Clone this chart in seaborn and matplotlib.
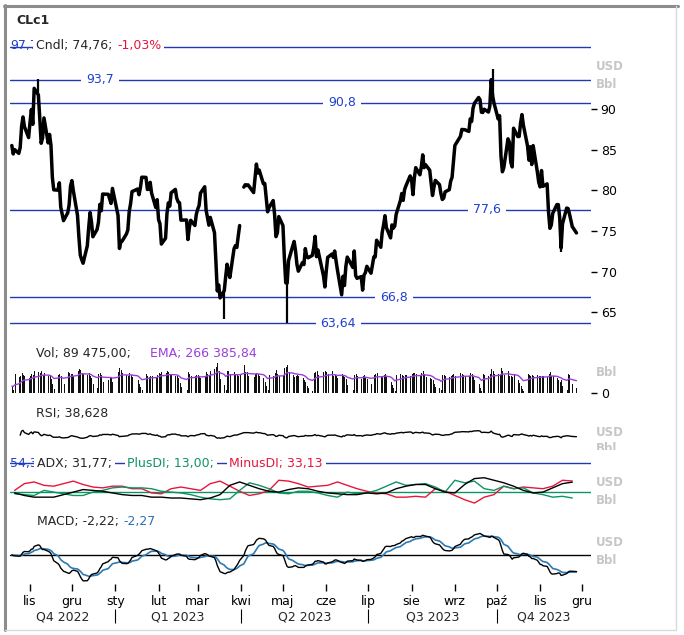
import matplotlib
matplotlib.use("Agg")
import matplotlib.pyplot as plt
import matplotlib.dates as mdates
import pandas as pd
import seaborn as sns
from matplotlib.lines import Line2D
from matplotlib.patches import Rectangle

# ---------------------------------------------------------------- data
holidays = ["2022-11-24", "2022-12-26", "2023-01-02", "2023-01-16", "2023-02-20",
            "2023-04-07", "2023-05-29", "2023-06-19", "2023-07-04", "2023-09-04",
            "2023-11-23"]

close = [
    # 2022-10 (from 19th)
    85.55, 84.51, 85.05, 84.58, 85.32, 87.91, 89.08, 87.90, 86.53,
    # 2022-11
    88.37, 90.00, 88.17, 92.61, 91.79, 88.91, 85.83, 86.47, 88.96, 85.87, 86.92,
    85.59, 81.64, 80.08, 80.04, 80.95, 77.94, 76.28, 77.24, 78.20, 80.55,
    # 2022-12
    81.22, 79.98, 76.93, 74.25, 72.01, 71.46, 71.02, 73.17, 75.39, 77.28, 76.11,
    74.29, 75.19, 76.09, 78.29, 77.49, 79.56, 79.53, 78.96, 78.40, 80.26,
    # 2023-01
    76.93, 72.84, 73.67, 73.77, 74.63, 75.12, 77.41, 78.39, 79.86, 80.18,
    79.48, 80.33, 81.64, 81.62, 80.13, 80.15, 81.01, 79.68, 77.90, 78.87,
    # 2023-02
    76.41, 75.88, 73.39, 74.11, 77.14, 78.47, 78.06, 79.72, 80.14, 79.06,
    78.59, 78.49, 76.34, 76.36, 73.95, 75.39, 76.32, 75.68, 77.05,
    # 2023-03
    77.69, 78.16, 79.68, 80.46, 77.58, 76.66, 75.72, 76.68, 74.80, 71.33, 67.61,
    68.35, 66.74, 67.64, 69.33, 70.90, 69.96, 69.26, 72.81, 73.20, 72.97, 74.37, 75.67,
    # 2023-04
    80.42, 80.71, 80.61, 80.70, 79.74, 81.53, 83.26, 82.16, 82.52, 80.83,
    80.86, 79.16, 77.37, 77.87, 78.76, 77.07, 74.30, 74.76, 76.78,
    # 2023-05
    75.66, 71.66, 68.60, 68.56, 71.34, 73.16, 73.71, 72.56, 70.87, 70.04, 71.11,
    70.86, 72.83, 71.86, 71.69, 71.99, 72.91, 74.34, 71.83, 72.67, 69.46, 68.09,
    # 2023-06
    70.10, 71.74, 72.15, 71.74, 72.53, 71.29, 70.17, 67.12, 69.42, 68.27, 70.62,
    71.78, 70.50, 72.53, 69.51, 69.16, 69.37, 67.70, 69.56, 69.86, 70.64,
    # 2023-07
    69.79, 71.79, 71.80, 73.86, 72.99, 74.83, 75.75, 76.89, 75.42, 74.15,
    75.75, 75.35, 75.63, 77.07, 78.74, 79.63, 78.78, 80.09, 80.58, 81.80,
    # 2023-08
    81.37, 79.49, 81.55, 82.82, 81.94, 82.92, 84.40, 82.82, 83.19, 82.51, 80.99, 79.38,
    80.39, 81.25, 80.72, 79.64, 78.89, 79.05, 79.83, 80.10, 81.16, 81.63, 83.63,
    # 2023-09
    85.55, 86.69, 87.54, 87.51, 87.51, 87.29, 88.84, 88.52, 90.16, 90.77,
    91.48, 91.20, 89.66, 89.63, 90.03, 89.68, 90.39, 93.68, 91.71, 90.79,
    # 2023-10
    88.82, 89.23, 84.22, 82.31, 82.79, 86.38, 85.97, 83.49, 82.91, 87.69, 86.66,
    86.66, 88.32, 89.37, 88.08, 85.49, 83.74, 85.39, 83.21, 85.54, 82.31, 81.02,
    # 2023-11
    80.44, 82.46, 80.51, 80.82, 77.37, 75.33, 75.74, 77.17, 78.26, 78.26,
    76.66, 72.90, 75.89, 77.83, 77.77, 77.10, 75.54, 74.76,
]

# thousand contracts
volume = [
    120, 60, 330, 280, 300, 340, 320, 290, 270,
    300, 330, 310, 380, 360, 340, 390, 320, 340, 300, 290, 250, 150, 70, 320, 330,
    300, 150, 360, 340, 330,
    330, 300, 380, 420, 400, 350, 330, 310, 340, 300, 260, 160, 80, 330, 340, 310,
    200, 230, 280, 260, 200,
    360, 430, 400, 350, 320, 300, 340, 320, 280, 220, 160, 110, 60, 330, 300, 280,
    290, 300, 280, 320,
    350, 330, 360, 340, 380, 360, 310, 330, 300, 290, 260, 170, 100, 50, 360, 330,
    290, 300, 320,
    310, 290, 270, 300, 360, 330, 320, 380, 420, 450, 520, 380, 250, 140, 60, 390,
    380, 330, 360, 320, 330, 300, 310,
    480, 370, 360, 300, 280, 330, 350, 330, 300, 260, 200, 120, 60, 320, 300, 350,
    400, 330, 300,
    300, 430, 450, 480, 360, 310, 280, 300, 310, 290, 260, 230, 200, 130, 90, 40,
    350, 370, 380, 310, 360, 380,
    360, 330, 380, 300, 320, 290, 260, 330, 290, 280, 240, 140, 50, 310, 330, 290,
    250, 300, 320, 260, 250,
    160, 320, 330, 340, 280, 300, 320, 330, 280, 200, 140, 90, 40, 310, 330, 320,
    300, 310, 320, 300,
    330, 350, 340, 330, 310, 340, 380, 330, 280, 260, 240, 230, 160, 110, 80, 50,
    320, 320, 290, 280, 300, 310, 330,
    300, 340, 330, 310, 290, 300, 340, 330, 280, 220, 150, 90, 40, 330, 310, 300,
    330, 420, 380, 330,
    330, 320, 430, 380, 320, 380, 300, 290, 280, 330, 230, 170, 120, 70, 40, 330,
    320, 300, 310, 300, 310, 290,
    300, 290, 290, 280, 330, 360, 300, 290, 260, 230, 200, 220, 120, 60, 330, 320,
    150, 89.475,
]

gap_date = "2023-04-03"
wick_dates = ["2022-11-07", "2023-03-20", "2023-05-04", "2023-09-28", "2023-11-16"]
wick_ends = [93.74, 64.12, 63.64, 95.03, 72.37]

levels = [97.7, 93.7, 90.8, 77.6, 66.8, 63.64]
level_labels = ["97,7", "93,7", "90,8", "77,6", "66,8", "63,64"]

# weekly readings, first week ending 2022-10-21
adx_start = "2022-10-21"
adx = [19, 16, 14, 14, 14, 17, 20, 23, 22, 21, 19, 17, 16, 16, 14, 14, 13, 13, 12, 11,
       13, 17, 28, 32, 28, 24, 21, 20, 23, 25, 24, 21, 19, 18, 17, 17, 19, 18, 19, 24,
       27, 29, 29, 24, 20, 19, 29, 36, 37, 34, 31, 27, 22, 19, 20, 25, 30, 31.77]
plus_di = [18, 17, 16, 22, 20, 18, 16, 16, 20, 22, 25, 26, 25, 25, 24, 21, 20, 19, 17, 14,
           12, 11, 12, 22, 31, 28, 24, 19, 18, 21, 21, 19, 16, 14, 20, 18, 19, 22, 27, 32,
           28, 29, 30, 26, 20, 34, 31, 33, 24, 22, 27, 24, 25, 19, 17, 14, 15, 13.0]
minus_di = [22, 30, 32, 28, 27, 30, 33, 29, 26, 25, 27, 27, 24, 24, 19, 18, 24, 26, 24, 22,
            30, 33, 27, 21, 16, 18, 22, 34, 33, 30, 26, 27, 28, 32, 28, 24, 21, 19, 18, 14,
            14, 15, 14, 24, 21, 16, 11, 7, 14, 17, 27, 24, 26, 25, 24, 27, 34, 33.13]

month_starts = pd.date_range("2022-11-01", "2023-12-01", freq="MS")
month_labels = ["lis", "gru", "sty", "lut", "mar", "kwi", "maj", "cze", "lip",
                "sie", "wrz", "paź", "lis", "gru"]
quarter_starts = ["2023-01-01", "2023-04-01", "2023-07-01", "2023-10-01"]
quarter_labels = ["Q4 2022", "Q1 2023", "Q2 2023", "Q3 2023", "Q4 2023"]

# ---------------------------------------------------------------- series
dates = pd.bdate_range("2022-10-19", "2023-11-27")
dates = dates[~dates.isin(pd.to_datetime(holidays))]
px = pd.Series(close, index=dates)
vol = pd.Series(volume, index=dates)
vol_ema = vol.ewm(span=14, adjust=False).mean()

macd = px.ewm(span=12, adjust=False).mean() - px.ewm(span=26, adjust=False).mean()
signal = macd.ewm(span=9, adjust=False).mean()

delta = px.diff().dropna()
gain = delta.clip(lower=0).ewm(alpha=1 / 14, adjust=True).mean()
loss = (-delta.clip(upper=0)).ewm(alpha=1 / 14, adjust=True).mean()
rsi = (100 - 100 / (1 + gain / loss)).iloc[3:]

adx_dates = pd.date_range(adx_start, periods=len(adx), freq="7D")

# ---------------------------------------------------------------- style
sns.set_style("white")
plt.rcParams["font.family"] = ["DejaVu Sans"]

W, H = 684, 635
BLUE_LINE = "#2238b4"
BLUE_TXT = "#1f40d0"
RED = "#e5173f"
GREEN = "#0d9462"
PURPLE = "#9b3fdc"
GRAY = "#c6c6c6"

fig = plt.figure(figsize=(W / 100, H / 100), dpi=100)


def box(left, top, right, bottom):
    return [left / W, 1 - bottom / H, (right - left) / W, (bottom - top) / H]


def ftext(x, y, s, **kw):
    kw.setdefault("fontsize", 9)
    return fig.text(x / W, 1 - y / H, s, va="center", ha="left", **kw)


white = dict(facecolor="white", edgecolor="none", pad=2.0)

ax_p = fig.add_axes(box(10, 30, 591, 336))
ax_v = fig.add_axes(box(10, 362, 591, 393), sharex=ax_p)
ax_r = fig.add_axes(box(10, 422, 591, 450), sharex=ax_p)
ax_a = fig.add_axes(box(10, 458, 591, 512), sharex=ax_p)
ax_m = fig.add_axes(box(10, 527, 591, 583), sharex=ax_p)
ax_t = fig.add_axes(box(10, 560, 591, 591), sharex=ax_p)

# price
mask = dates < pd.Timestamp(gap_date)
for part in (mask, ~mask):
    sns.lineplot(x=dates[part], y=px[part].values, ax=ax_p, color="black",
                 lw=2.5, estimator=None, sort=False)
wd = pd.to_datetime(wick_dates)
ax_p.vlines(wd, px.loc[wd].values, wick_ends, color="black", lw=1.6)
for lv in levels:
    ax_p.axhline(lv, color=BLUE_LINE, lw=1.0, zorder=1)
label_x = [None, 0.155, 0.571, 0.821, 0.661, 0.565]
for lv, lab, xf in zip(levels[1:], level_labels[1:], label_x[1:]):
    ax_p.text(xf, lv, lab, transform=ax_p.get_yaxis_transform(), ha="center",
              va="center", color=BLUE_TXT, fontsize=9, zorder=10,
              bbox=dict(facecolor="white", edgecolor="none", pad=3.5))
ax_p.set_ylim(62.04, 99.81)
ax_p.yaxis.tick_right()
ax_p.set_yticks([65, 70, 75, 80, 85, 90])

# volume
ax_v.vlines(dates, 0, vol.values, color="#111111", lw=0.7, antialiased=False)
sns.lineplot(x=dates, y=vol_ema.values, ax=ax_v, color=PURPLE, lw=1.0)
ax_v.set_ylim(0, 540)
ax_v.yaxis.tick_right()
ax_v.set_yticks([0])

# RSI
sns.lineplot(x=rsi.index, y=rsi.values, ax=ax_r, color="black", lw=1.0)
ax_r.set_ylim(-50, 136.6)
ax_r.set_yticks([])

# ADX
ax_a.axhline(54.3, color=BLUE_LINE, lw=1.0)
ax_a.axhline(20, color=GREEN, lw=1.0)
sns.lineplot(x=adx_dates, y=minus_di, ax=ax_a, color=RED, lw=1.0)
sns.lineplot(x=adx_dates, y=plus_di, ax=ax_a, color=GREEN, lw=1.0)
sns.lineplot(x=adx_dates, y=adx, ax=ax_a, color="black", lw=1.0)
ax_a.set_ylim(-3.56, 60.35)
ax_a.set_yticks([])

# MACD
ax_m.axhline(0, color="black", lw=1.0)
sns.lineplot(x=dates, y=signal.values, ax=ax_m, color="#2b7ab5", lw=1.2)
sns.lineplot(x=dates, y=macd.values, ax=ax_m, color="black", lw=1.0)
ax_m.set_ylim(-3.73, 3.73)
ax_m.set_yticks([])

x0 = mdates.date2num(pd.Timestamp("2022-11-01"))
xlim = (x0 - 14.3, x0 + 401.4)
for ax in (ax_p, ax_v, ax_r, ax_a, ax_m, ax_t):
    for sp in ax.spines.values():
        sp.set_visible(False)
    ax.patch.set_alpha(0)
    ax.set_xlabel("")
    ax.set_ylabel("")
    ax.tick_params(axis="x", bottom=False, labelbottom=False)
    ax.tick_params(axis="y", left=False, right=True, length=4, width=1,
                   pad=3, labelsize=9, colors="black")
ax_t.set_yticks([])
ax_t.set_xlim(xlim)

# time axis
ax_t.set_xticks(mdates.date2num(month_starts))
ax_t.set_xticklabels(month_labels)
ax_t.tick_params(axis="x", bottom=True, labelbottom=True, direction="in",
                 length=5, width=1, pad=3, labelsize=9, colors="black")
q_edges = [xlim[0]] + list(mdates.date2num(pd.to_datetime(quarter_starts))) + [xlim[1]]
for i, lab in enumerate(quarter_labels):
    ax_t.text((q_edges[i] + q_edges[i + 1]) / 2, -0.84, lab, ha="center", va="center",
              fontsize=9, transform=ax_t.get_xaxis_transform())
ax_t.vlines(q_edges[1:-1], -1.03, -0.58, color="black", lw=0.8,
            transform=ax_t.get_xaxis_transform(), clip_on=False)

# titles
ftext(16, 20, "CLc1", fontweight="bold")
ftext(10, 46, "97,7", color=BLUE_TXT)
t_c = ftext(36, 46, "Cndl; 74,76;", bbox=white)
ax_p.annotate("-1,03%", xy=(1, 0), xycoords=t_c, xytext=(3.5, 0),
              textcoords="offset points", va="bottom", ha="left", color=RED,
              fontsize=9, bbox=white, zorder=10, annotation_clip=False)

ftext(36, 353, "Vol; 89 475,00;")
ftext(150, 353, "EMA; 266 385,84", color=PURPLE)
ftext(36, 414, "RSI; 38,628")

ftext(10, 463, "54,3", color=BLUE_TXT)
t_a = ftext(37, 463, "ADX; 31,77;", bbox=white)
t_pl = ax_a.annotate("PlusDI; 13,00;", xy=(1, 0), xycoords=t_a, xytext=(11, 0),
                     textcoords="offset points", va="bottom", ha="left", color=GREEN,
                     fontsize=9, bbox=white, zorder=10, annotation_clip=False)
ax_a.annotate("MinusDI; 33,13", xy=(1, 0), xycoords=t_pl, xytext=(11, 0),
              textcoords="offset points", va="bottom", ha="left", color=RED,
              fontsize=9, bbox=white, zorder=10, annotation_clip=False)

t_m = ftext(37, 521, "MACD; -2,22;")
ax_m.annotate("-2,27", xy=(1, 0), xycoords=t_m, xytext=(3.5, 0),
              textcoords="offset points", va="bottom", ha="left", color="#2b6fb5",
              fontsize=9, zorder=10, annotation_clip=False)

for y, s in [(66, "USD"), (84, "Bbl"), (372, "Bbl"), (433, "USD"), (448, "Bbl"),
             (483, "USD"), (500, "Bbl"), (543, "USD"), (561, "Bbl")]:
    ftext(596, y, s, color=GRAY, fontweight="bold", fontsize=8.5)
fig.add_artist(Rectangle((592 / W, 1 - 458 / H), 40 / W, 8.5 / H,
                         transform=fig.transFigure, facecolor="white",
                         edgecolor="none", zorder=5))

# frame
fig.add_artist(Line2D([4.5 / W] * 2, [1 - 630 / H, 1 - 5 / H], color="#8c8c8c", lw=2.2))
fig.add_artist(Line2D([4 / W, 678 / W], [1 - 5.5 / H] * 2, color="#8c8c8c", lw=2.2))
fig.add_artist(Line2D([676 / W] * 2, [1 - 630 / H, 1 - 6 / H], color="#dadada", lw=1))
fig.add_artist(Line2D([5 / W, 676 / W], [1 - 630 / H] * 2, color="#dadada", lw=1))

fig.savefig("out.png", dpi=100)
